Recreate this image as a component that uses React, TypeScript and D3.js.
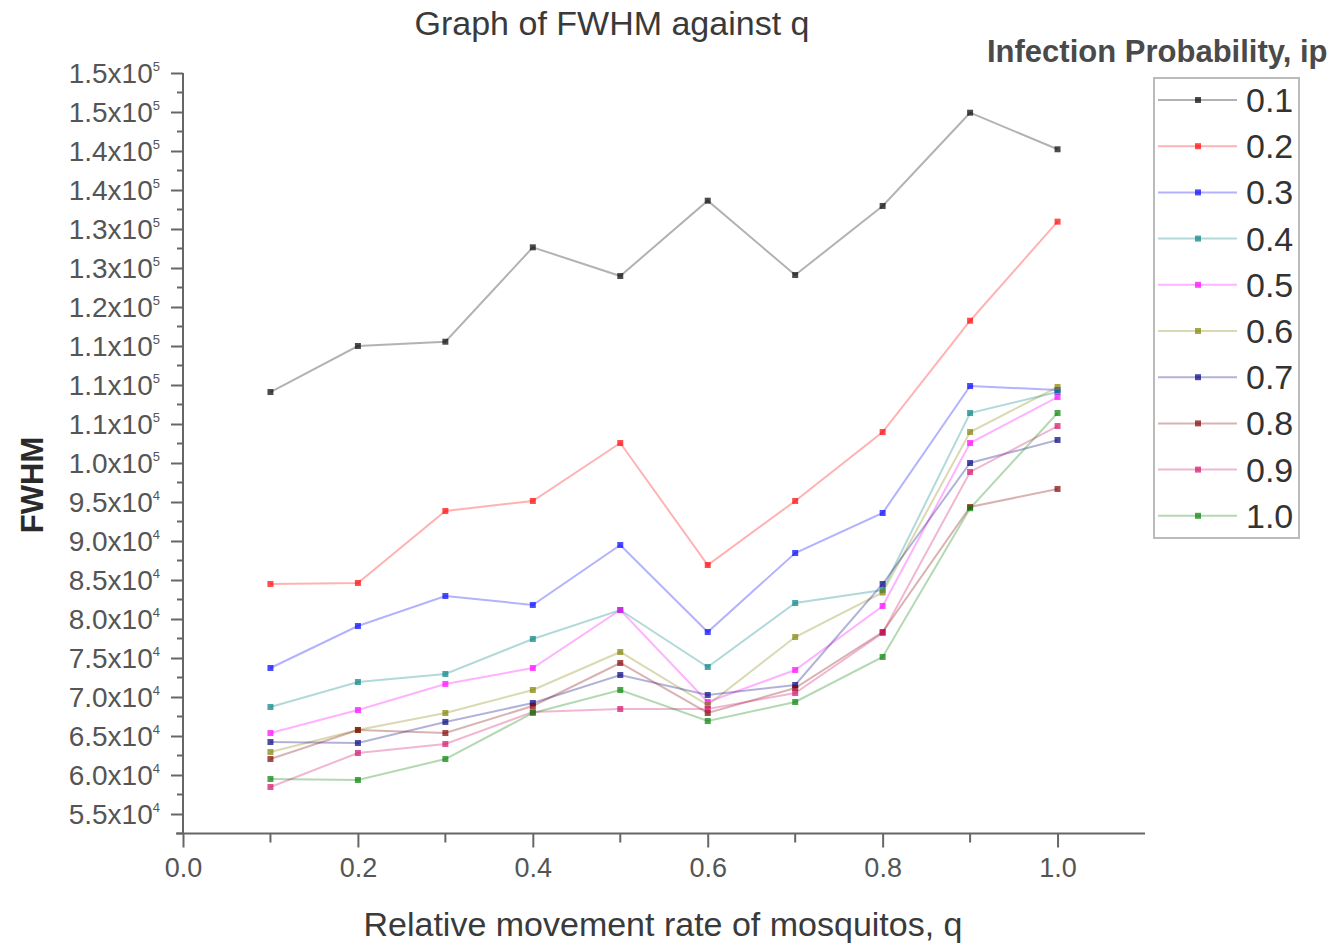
import React, { useEffect, useRef } from 'react';
import * as d3 from 'd3';

// relative movement rate q (x axis)
const qValues = [0.1, 0.2, 0.3, 0.4, 0.5, 0.6, 0.7, 0.8, 0.9, 1.0];

// infection probability series (legend)
const ipLabels = ['0.1', '0.2', '0.3', '0.4', '0.5', '0.6', '0.7', '0.8', '0.9', '1.0'];
const ipColors = ['#000000', '#ff0000', '#0000ff', '#008080', '#ff00ff', '#808000', '#000080', '#800000', '#d0106a', '#008000'];

// FWHM for each ip
const fwhmIp01 = [109100, 115000, 115550, 127650, 123970, 133630, 124100, 132950, 144910, 140220];
const fwhmIp02 = [84490, 84620, 93850, 95130, 102560, 86920, 95130, 103970, 118240, 130940];
const fwhmIp03 = [73720, 79100, 82950, 81800, 89490, 78330, 88460, 93590, 109870, 109360];
const fwhmIp04 = [68720, 71920, 72950, 77440, 81150, 73850, 82050, 83720, 106410, 109100];
const fwhmIp05 = [65380, 68330, 71670, 73720, 81150, 69360, 73460, 81670, 102560, 108460];
const fwhmIp06 = [62950, 65770, 67950, 70900, 75770, 68970, 77690, 83400, 103970, 109740];
const fwhmIp07 = [64230, 64100, 66800, 69230, 72820, 70260, 71540, 84490, 100000, 102950];
const fwhmIp08 = [62050, 65770, 65380, 68850, 74360, 67950, 71150, 78330, 94360, 96670];
const fwhmIp09 = [58460, 62820, 63970, 68080, 68460, 68460, 70510, 78200, 98850, 104740];
const fwhmIp10 = [59490, 59360, 62050, 67950, 70900, 66920, 69360, 75130, 94200, 106410];

const allSeries = [fwhmIp01, fwhmIp02, fwhmIp03, fwhmIp04, fwhmIp05, fwhmIp06, fwhmIp07, fwhmIp08, fwhmIp09, fwhmIp10];

// axis ticks
const xTickValues = [0, 0.2, 0.4, 0.6, 0.8, 1.0];
const xTickLabels = ['0.0', '0.2', '0.4', '0.6', '0.8', '1.0'];
const yTickValues = [55000, 60000, 65000, 70000, 75000, 80000, 85000, 90000, 95000, 100000, 105000, 110000, 115000, 120000, 125000, 130000, 135000, 140000, 145000, 150000];
const yTickMantissa = ['5.5', '6.0', '6.5', '7.0', '7.5', '8.0', '8.5', '9.0', '9.5', '1.0', '1.1', '1.1', '1.1', '1.2', '1.3', '1.3', '1.4', '1.4', '1.5', '1.5'];
const yTickExponent = ['4', '4', '4', '4', '4', '4', '4', '4', '4', '5', '5', '5', '5', '5', '5', '5', '5', '5', '5', '5'];

const FONT = '"Liberation Sans", Arial, sans-serif';

const App = () => {
  const ref = useRef(null);

  useEffect(() => {
    const svg = d3.select(ref.current);
    svg.selectAll('*').remove();

    const x = d3.scaleLinear().domain([0, 1.1]).range([183, 1145]);
    const y = d3.scaleLinear().domain([52500, 150000]).range([833.5, 73]);

    const axisColor = '#666';
    const textColor = '#3a3a3a';

    // title
    svg.append('text')
      .attr('x', 612).attr('y', 35)
      .attr('text-anchor', 'middle')
      .style('font-family', FONT).style('font-size', '34px').style('fill', textColor)
      .text('Graph of FWHM against q');

    // lines + markers
    const line = d3.line().x((d) => x(d[0])).y((d) => y(d[1]));
    allSeries.forEach((vals, i) => {
      const pts = qValues.map((q, j) => [q, vals[j]]);
      svg.append('path')
        .attr('d', line(pts))
        .attr('fill', 'none')
        .attr('stroke', ipColors[i])
        .attr('stroke-opacity', 0.3)
        .attr('stroke-width', 2);
    });
    allSeries.forEach((vals, i) => {
      svg.append('g')
        .selectAll('rect')
        .data(qValues.map((q, j) => [q, vals[j]]))
        .enter()
        .append('rect')
        .attr('x', (d) => x(d[0]) - 3)
        .attr('y', (d) => y(d[1]) - 3)
        .attr('width', 6)
        .attr('height', 6)
        .attr('fill', ipColors[i])
        .attr('fill-opacity', 0.7);
    });

    // y axis
    const yMinor = d3.range(52500, 150001, 2500).filter((v) => v % 5000 !== 0);
    const yAx = svg.append('g').attr('transform', 'translate(183,0)');
    yAx.call(d3.axisLeft(y).tickValues(yTickValues).tickFormat(() => '').tickSize(12).tickSizeOuter(0));
    yAx.selectAll('.minor')
      .data(yMinor)
      .enter()
      .append('line')
      .attr('class', 'minor')
      .attr('x1', -6).attr('x2', 0)
      .attr('y1', (d) => y(d)).attr('y2', (d) => y(d));
    yAx.selectAll('path, line').style('stroke', axisColor).style('stroke-width', 2);
    yAx.select('.domain').attr('d', `M0,${y(150000)}V${y(52500)}`);

    const yLab = svg.append('g');
    yTickValues.forEach((v, i) => {
      const t = yLab.append('text')
        .attr('x', 160).attr('y', y(v) + 10)
        .attr('text-anchor', 'end')
        .style('font-family', FONT).style('font-size', '28px').style('fill', '#555');
      t.append('tspan').text(`${yTickMantissa[i]}x10`);
      t.append('tspan').attr('dy', -12).style('font-size', '13px').text(yTickExponent[i]);
    });

    // x axis
    const xMinor = [0.1, 0.3, 0.5, 0.7, 0.9];
    const xAx = svg.append('g').attr('transform', 'translate(0,833.5)');
    xAx.call(d3.axisBottom(x).tickValues(xTickValues).tickFormat((d, i) => xTickLabels[i]).tickSize(14).tickSizeOuter(0).tickPadding(10));
    xAx.selectAll('.minor')
      .data(xMinor)
      .enter()
      .append('line')
      .attr('class', 'minor')
      .attr('x1', (d) => x(d)).attr('x2', (d) => x(d))
      .attr('y1', 0).attr('y2', 9);
    xAx.selectAll('path, line').style('stroke', axisColor).style('stroke-width', 2);
    xAx.select('.domain').attr('d', `M176,0H${x(1.1)}`);
    xAx.selectAll('text')
      .style('font-family', FONT).style('font-size', '27px').style('fill', '#555');

    // axis titles
    svg.append('text')
      .attr('x', 663).attr('y', 936)
      .attr('text-anchor', 'middle')
      .style('font-family', FONT).style('font-size', '34px').style('fill', textColor)
      .text('Relative movement rate of mosquitos, q');

    svg.append('text')
      .attr('transform', 'translate(43,485) rotate(-90)')
      .attr('text-anchor', 'middle')
      .style('font-family', FONT).style('font-size', '31px').style('font-weight', 'bold').style('fill', '#2a2a2a')
      .text('FWHM');

    // legend
    svg.append('text')
      .attr('x', 987).attr('y', 62)
      .style('font-family', FONT).style('font-size', '31px').style('font-weight', 'bold').style('fill', '#4a4a4a')
      .text('Infection Probability, ip');

    const legend = svg.append('g');
    legend.append('rect')
      .attr('x', 1154).attr('y', 78).attr('width', 145).attr('height', 460)
      .attr('fill', 'none').attr('stroke', '#bbb').attr('stroke-width', 2);
    ipLabels.forEach((lab, i) => {
      const ly = 100 + i * 46.2;
      legend.append('line')
        .attr('x1', 1158).attr('x2', 1237).attr('y1', ly).attr('y2', ly)
        .attr('stroke', ipColors[i]).attr('stroke-opacity', 0.3).attr('stroke-width', 2);
      legend.append('rect')
        .attr('x', 1195).attr('y', ly - 3).attr('width', 6).attr('height', 6)
        .attr('fill', ipColors[i]).attr('fill-opacity', 0.7);
      legend.append('text')
        .attr('x', 1246).attr('y', ly + 12)
        .style('font-family', FONT).style('font-size', '34px').style('fill', '#333')
        .text(lab);
    });
  }, []);

  return (
    <svg
      ref={ref}
      width={1333}
      height={945}
      style={{ position: 'absolute', left: 0, top: 0, background: '#fff' }}
    />
  );
};

export default App;
